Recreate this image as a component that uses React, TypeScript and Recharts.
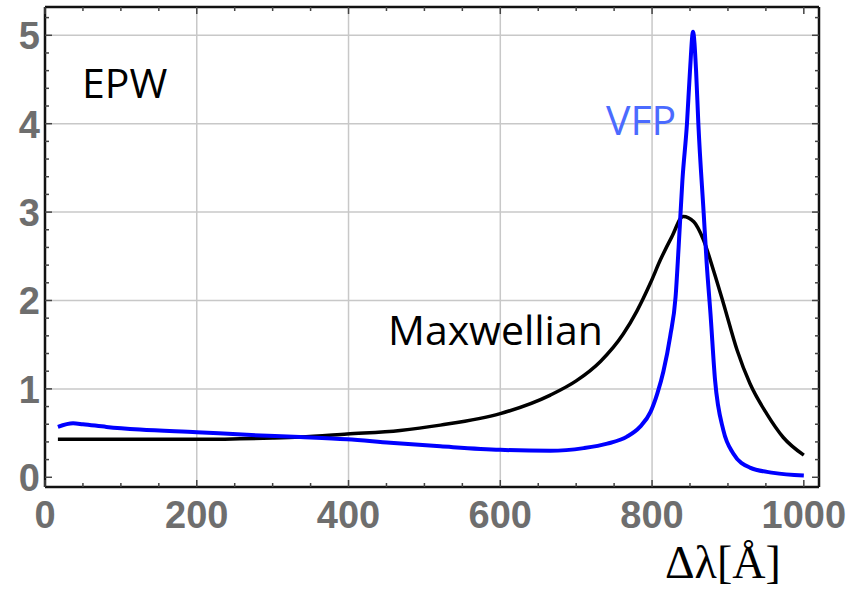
import React from 'react';
import { LineChart, Line, XAxis, YAxis, ReferenceLine } from 'recharts';

// Δλ positions (Å) and EPW amplitudes
const maxwellX = [17, 100, 200, 300, 336, 398, 468, 521, 600, 666, 700, 732, 762, 780, 798, 811, 826, 841, 855, 868, 881, 894, 912, 929, 951, 973, 1000];
const maxwellY = [0.43, 0.43, 0.43, 0.445, 0.456, 0.49, 0.53, 0.59, 0.72, 0.93, 1.09, 1.31, 1.62, 1.88, 2.2, 2.46, 2.72, 2.95, 2.89, 2.68, 2.34, 1.97, 1.44, 1.06, 0.72, 0.45, 0.25];

const vfpX = [17, 37, 50, 81, 125, 200, 266, 336, 398, 455, 521, 600, 666, 710, 741, 767, 784, 798, 807, 815, 824, 831, 835, 840, 846, 850, 854, 858, 861, 868, 872, 877, 883, 894, 907, 929, 960, 1000];
const vfpY = [0.57, 0.61, 0.6, 0.57, 0.54, 0.51, 0.48, 0.456, 0.43, 0.39, 0.35, 0.31, 0.3, 0.33, 0.38, 0.46, 0.57, 0.74, 0.95, 1.2, 1.6, 2.04, 2.6, 3.36, 4.0, 4.6, 5.04, 4.6, 4.0, 2.99, 2.42, 1.85, 1.1, 0.53, 0.27, 0.11, 0.05, 0.02];

const xTicks = [0, 50, 100, 150, 200, 250, 300, 350, 400, 450, 500, 550, 600, 650, 700, 750, 800, 850, 900, 950, 1000];
const yTicks = [0, 0.2, 0.4, 0.6, 0.8, 1, 1.2, 1.4, 1.6, 1.8, 2, 2.2, 2.4, 2.6, 2.8, 3, 3.2, 3.4, 3.6, 3.8, 4, 4.2, 4.4, 4.6, 4.8, 5, 5.2];
const xGrid = [200, 400, 600, 800];
const yGrid = [1, 2, 3, 4, 5];

const maxwellData = maxwellX.map((x, i) => ({ x, y: maxwellY[i] }));
const vfpData = vfpX.map((x, i) => ({ x, y: vfpY[i] }));

const TICK_COLOR = '#444';
const LABEL_COLOR = '#6e6e6e';
const labelFont = '"Liberation Sans", Arial, sans-serif';

const isMajorY = (v: number) => Math.abs(v - Math.round(v)) < 1e-6;

const BottomTick = ({ x, y, payload }: any) => {
  const v = payload.value;
  const major = v % 200 === 0;
  return (
    <g>
      <line x1={x} x2={x} y1={y} y2={y - (major ? 7 : 4)} stroke={TICK_COLOR} strokeWidth={1.5} />
      {major && (
        <text x={x} y={y + 41} textAnchor="middle" fontFamily={labelFont} fontWeight="bold" fontSize={38} fill={LABEL_COLOR}>
          {v}
        </text>
      )}
    </g>
  );
};

const TopTick = ({ x, y, payload }: any) => {
  const major = payload.value % 200 === 0;
  return <line x1={x} x2={x} y1={y} y2={y + (major ? 7 : 4)} stroke={TICK_COLOR} strokeWidth={1.5} />;
};

const LeftTick = ({ x, y, payload }: any) => {
  const v = payload.value;
  const major = isMajorY(v);
  return (
    <g>
      <line x1={x} x2={x + (major ? 7 : 4)} y1={y} y2={y} stroke={TICK_COLOR} strokeWidth={1.5} />
      {major && (
        <text x={x - 5} y={y + 14} textAnchor="end" fontFamily={labelFont} fontWeight="bold" fontSize={38} fill={LABEL_COLOR}>
          {Math.round(v)}
        </text>
      )}
    </g>
  );
};

const RightTick = ({ x, y, payload }: any) => {
  const major = isMajorY(payload.value);
  return <line x1={x} x2={x - (major ? 7 : 4)} y1={y} y2={y} stroke={TICK_COLOR} strokeWidth={1.5} />;
};

const frame = { stroke: '#111', strokeWidth: 2.5 };

export default function App() {
  return (
    <div style={{ position: 'absolute', left: 0, top: 0, width: 863, height: 594, background: '#fff' }}>
      <LineChart width={863} height={594} margin={{ top: 0, right: 0, bottom: 0, left: 0 }}>
        {xGrid.map((v) => (
          <ReferenceLine key={'gx' + v} x={v} xAxisId="bottom" yAxisId="left" stroke="#c8c8c8" strokeWidth={1.5} />
        ))}
        {yGrid.map((v) => (
          <ReferenceLine key={'gy' + v} y={v} xAxisId="bottom" yAxisId="left" stroke="#c8c8c8" strokeWidth={1.5} />
        ))}
        <XAxis
          xAxisId="bottom"
          dataKey="x"
          type="number"
          domain={[0, 1020]}
          ticks={xTicks}
          height={107}
          tickSize={0}
          tickMargin={0}
          tickLine={false}
          axisLine={frame}
          tick={<BottomTick />}
          interval={0}
          allowDataOverflow
        />
        <XAxis
          xAxisId="top"
          orientation="top"
          dataKey="x"
          type="number"
          domain={[0, 1020]}
          ticks={xTicks}
          height={7}
          tickSize={0}
          tickMargin={0}
          tickLine={false}
          axisLine={frame}
          tick={<TopTick />}
          interval={0}
          allowDataOverflow
        />
        <YAxis
          yAxisId="left"
          type="number"
          domain={[-0.11, 5.32]}
          ticks={yTicks}
          width={45}
          tickSize={0}
          tickMargin={0}
          tickLine={false}
          axisLine={frame}
          tick={<LeftTick />}
          interval={0}
          allowDataOverflow
        />
        <YAxis
          yAxisId="right"
          orientation="right"
          type="number"
          domain={[-0.11, 5.32]}
          ticks={yTicks}
          width={44}
          tickSize={0}
          tickMargin={0}
          tickLine={false}
          axisLine={frame}
          tick={<RightTick />}
          interval={0}
          allowDataOverflow
        />
        <Line
          xAxisId="bottom"
          yAxisId="left"
          data={maxwellData}
          dataKey="y"
          type="monotone"
          stroke="#000"
          strokeWidth={3.5}
          dot={false}
          isAnimationActive={false}
        />
        <Line
          xAxisId="bottom"
          yAxisId="left"
          data={vfpData}
          dataKey="y"
          type="monotone"
          stroke="#0000ff"
          strokeWidth={4}
          dot={false}
          isAnimationActive={false}
        />
      </LineChart>
      <svg width={863} height={594} style={{ position: 'absolute', left: 0, top: 0, pointerEvents: 'none' }}>
        <text x={82} y={98} fontFamily='"Open Sans", sans-serif' fontSize={41} fill="#000">EPW</text>
        <text x={606} y={135} fontFamily='"Open Sans", sans-serif' fontSize={41} fill="#4b6bff">VFP</text>
        <text x={388} y={345} fontFamily='"Open Sans", sans-serif' fontSize={41} fill="#000">Maxwellian</text>
        <text x={665} y={578} fontFamily='"Liberation Serif", serif' fontSize={46} fill="#000">Δλ[Å]</text>
      </svg>
    </div>
  );
}
